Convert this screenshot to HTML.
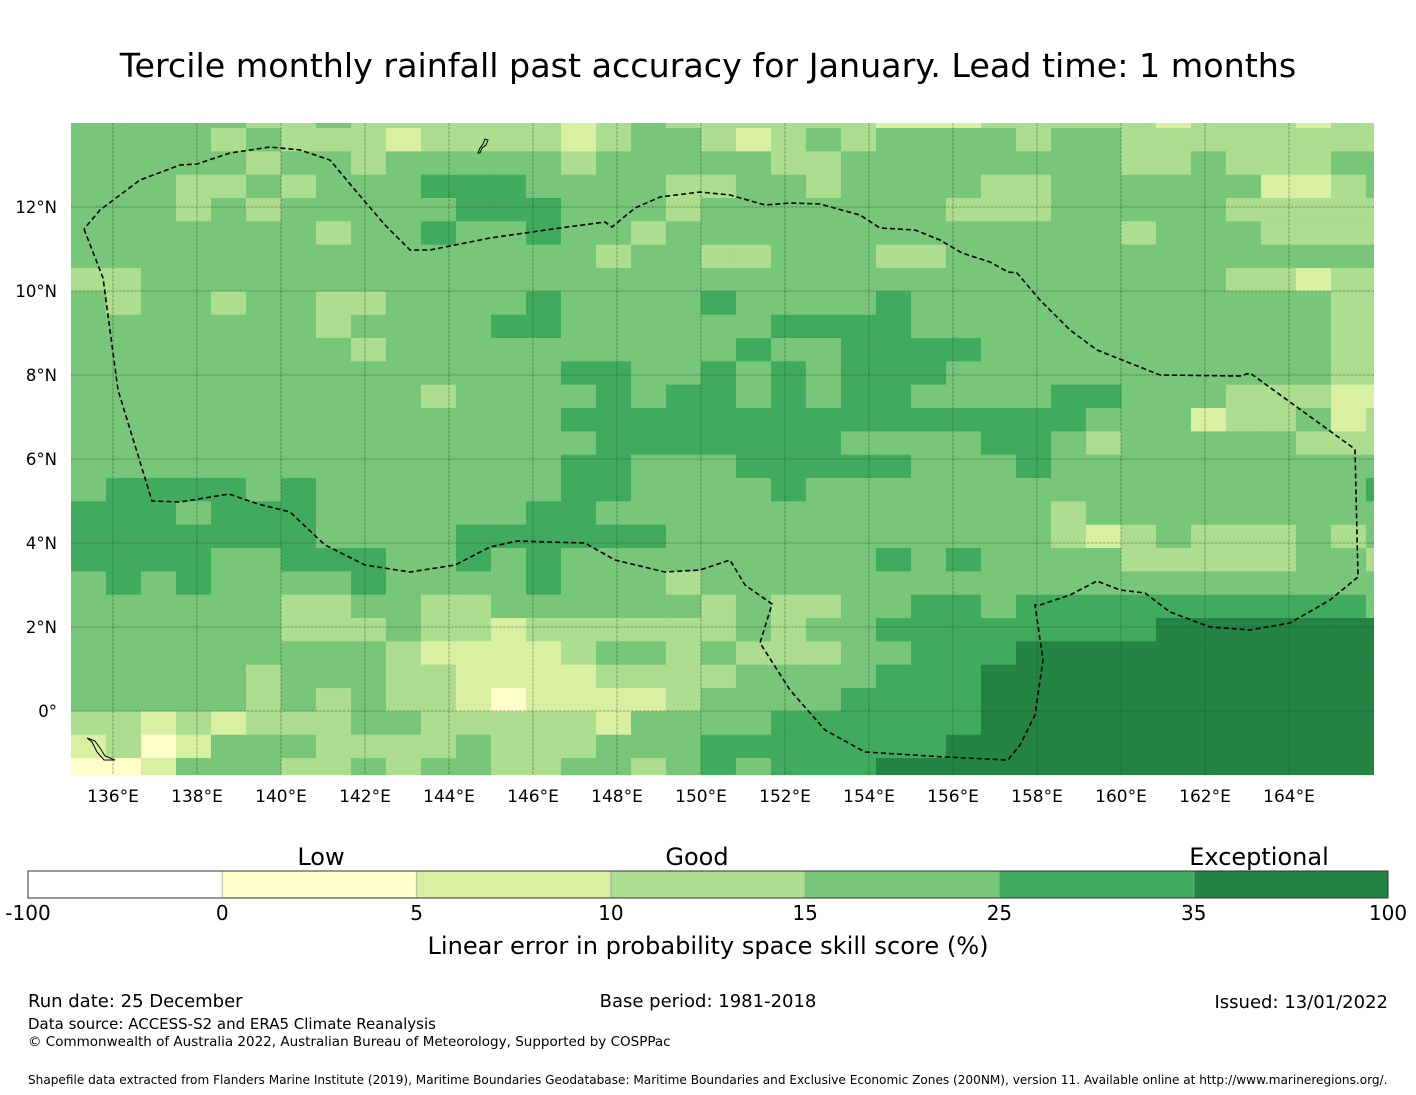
<!DOCTYPE html>
<html><head><meta charset="utf-8"><style>
html,body{margin:0;padding:0;background:#fff;}
svg{display:block;font-family:"DejaVu Sans","Liberation Sans",sans-serif;}
</style></head><body>
<svg id="page" width="1416" height="1095" viewBox="0 0 1416 1095" xmlns="http://www.w3.org/2000/svg">
<text x="708" y="77" font-size="33.3" text-anchor="middle" fill="#000">Tercile monthly rainfall past accuracy for January. Lead time: 1 months</text>
<defs><clipPath id="mapclip"><rect x="71" y="123" width="1303" height="652"/></clipPath></defs>
<g id="map" clip-path="url(#mapclip)">
<g id="cells"></g>
<g id="grid"></g>
<polyline fill="none" stroke="#000" stroke-width="1.6" stroke-dasharray="5,3" points="84,229 103,278 118,390 152,501 180,502 229,494 258,504 290,512 325,545 365,565 410,572 455,565 490,547 517,541 550,542 585,543 615,560 665,572 700,570 730,560 745,585 772,604 760,643 790,690 825,730 865,752 945,757 1008,760 1020,745 1035,715 1043,660 1035,605 1040,605 1070,595 1097,581 1120,590 1145,593 1170,612 1210,627 1250,630 1290,623 1330,600 1358,577 1355,450 1352,447 1250,373 1240,376 1160,375 1097,350 1070,330 1040,300 1017,273 1008,272 990,262 962,253 940,240 915,230 880,228 860,215 820,204 790,203 765,205 730,195 700,192 660,197 635,208 612,227 605,222 560,228 490,238 430,250 410,250 385,225 355,190 330,160 300,150 270,147 230,153 197,164 180,165 140,180 100,210 84,229"/>
<path d="M478,153 l2,-5 l3,-4 l2,-5 l3,1 l-2,5 l-4,3 l-2,5 z" fill="none" stroke="#000" stroke-width="1"/>
<path d="M87,738 l8,3 l5,7 l5,8 l10,4 l-11,0 l-7,-8 l-5,-10 z" fill="none" stroke="#000" stroke-width="1"/>
</g>
<g id="xlabels"></g>
<g id="ylabels"></g>
<g id="cbar"></g>
<text x="321" y="865" font-size="24" text-anchor="middle">Low</text>
<text x="697" y="865" font-size="24" text-anchor="middle">Good</text>
<text x="1259" y="865" font-size="24" text-anchor="middle">Exceptional</text>
<text x="708" y="954" font-size="24.1" text-anchor="middle">Linear error in probability space skill score (%)</text>
<text x="28" y="1007" font-size="18">Run date: 25 December</text>
<text x="708" y="1007" font-size="18" text-anchor="middle">Base period: 1981-2018</text>
<text x="1388" y="1008" font-size="18" text-anchor="end">Issued: 13/01/2022</text>
<text x="28" y="1029" font-size="15">Data source: ACCESS-S2 and ERA5 Climate Reanalysis</text>
<text x="28" y="1046" font-size="13.5">© Commonwealth of Australia 2022, Australian Bureau of Meteorology, Supported by COSPPac</text>
<text x="28" y="1084" font-size="12.1">Shapefile data extracted from Flanders Marine Institute (2019), Maritime Boundaries Geodatabase: Maritime Boundaries and Exclusive Economic Zones (200NM), version 11. Available online at http://www.marineregions.org/.</text>
</svg>
<script>
// skill category per cell (0=-100..0, 1=0-5, 2=5-10, 3=10-15, 4=15-25, 5=25-35, 6=35-100), rows north->south, chunks of 5 columns
const skillRows = [
"44444 33433 33332 34333 33322 23333 32333 233",
"44443 43332 33332 34432 34344 44344 33333 333",
"44444 34434 44443 44444 33444 44444 33433 344",
"44433 43444 55544 44334 43444 43344 44442 234",
"44434 34444 45554 44344 44444 33344 44433 333",
"44444 44344 54454 43444 44444 44444 34443 333",
"44444 44444 44444 34433 44433 44444 44444 444",
"33444 44444 44444 44444 44444 44444 44433 233",
"43443 44334 44454 44454 44454 44444 44444 433",
"44444 44344 44554 44444 55554 44444 44444 433",
"44444 44434 44444 44445 44555 54444 44444 433",
"44444 44444 44445 54454 54555 44444 44444 433",
"44444 44444 34444 54554 54554 44455 44433 322",
"44444 44444 44445 55555 55555 55554 44233 423",
"44444 44444 44444 55555 55444 45543 44444 333",
"44444 44444 44445 54445 55554 44544 44444 444",
"45555 45444 44445 54444 54444 44444 44444 445",
"55545 55444 44455 44444 44444 44434 44444 444",
"55555 55444 45555 55444 44444 44432 34333 434",
"55554 45554 45454 44444 44454 54444 33333 443",
"45454 44454 44454 44344 44444 44444 44444 444",
"44444 43344 33444 44434 33445 54555 55555 554",
"44444 43334 33233 33334 34455 55555 56666 666",
"44444 44443 22223 44343 33445 55666 66666 666",
"44444 34443 32222 33334 44455 56666 66666 666",
"44444 34343 32122 22344 44555 56666 66666 666",
"33232 33344 33333 24444 55555 56666 66666 666",
"23124 44333 34333 44455 55555 66666 66666 666",
"11244 43343 44334 43454 55566 66666 66666 666"
];
// cell edges (degrees)
const lonStart = 135.0, lonStep = 0.8333;
const latEdges = [14.0, 13.881];
const latStep = 0.5556;
const binColors = ["#ffffff","#ffffcc","#d9f0a3","#addd8e","#78c679","#41ab5d","#238443"];
const cbarTicks = ["-100","0","5","10","15","25","35","100"];
const lonTicks = [136,138,140,142,144,146,148,150,152,154,156,158,160,162,164];
const latTicks = [12,10,8,6,4,2,0];

const NS="http://www.w3.org/2000/svg";
const xs = lon => 113 + 42*(lon-136);
const ys = lat => 711 - 42*lat;

const cells=document.getElementById('cells');
for(let r=0;r<skillRows.length;r++){
  let top, bot;
  if(r===0){top=latEdges[0];bot=latEdges[1];}
  else {top=latEdges[1]-latStep*(r-1);bot=top-latStep;}
  const row=skillRows[r].replace(/ /g,'');
  for(let c=0;c<row.length;c++){
    const l=lonStart+lonStep*c;
    const rect=document.createElementNS(NS,'rect');
    rect.setAttribute('x',xs(l));rect.setAttribute('y',ys(top));
    rect.setAttribute('width',xs(l+lonStep)-xs(l)+0.4);
    rect.setAttribute('height',ys(bot)-ys(top)+0.4);
    rect.setAttribute('fill',binColors[+row[c]]);
    
    
    cells.appendChild(rect);
  }
}
const grid=document.getElementById('grid');
const xl=document.getElementById('xlabels');
lonTicks.forEach(v=>{
  const ln=document.createElementNS(NS,'line');
  ln.setAttribute('x1',xs(v));ln.setAttribute('x2',xs(v));ln.setAttribute('y1',123);ln.setAttribute('y2',775);
  ln.setAttribute('stroke','#333');ln.setAttribute('stroke-opacity','0.4');ln.setAttribute('stroke-width','1');ln.setAttribute('stroke-dasharray','3,1');
  
  
  grid.appendChild(ln);
  const t=document.createElementNS(NS,'text');
  t.setAttribute('x',xs(v));t.setAttribute('y',802);t.setAttribute('font-size','17');t.setAttribute('text-anchor','middle');
  t.textContent=v+'°E';
  
  
  xl.appendChild(t);
});
const yl=document.getElementById('ylabels');
latTicks.forEach(v=>{
  const ln=document.createElementNS(NS,'line');
  ln.setAttribute('x1',71);ln.setAttribute('x2',1374);ln.setAttribute('y1',ys(v));ln.setAttribute('y2',ys(v));
  ln.setAttribute('stroke','#333');ln.setAttribute('stroke-opacity','0.4');ln.setAttribute('stroke-width','1');ln.setAttribute('stroke-dasharray','3,1');
  
  
  grid.appendChild(ln);
  const t=document.createElementNS(NS,'text');
  t.setAttribute('x',57);t.setAttribute('y',ys(v)+6);t.setAttribute('font-size','16.5');t.setAttribute('text-anchor','end');
  t.textContent=v===0?'0°':v+'°N';
  
  
  yl.appendChild(t);
});
const cb=document.getElementById('cbar');
const cbX=28, cbW=1360, cbY=871, cbH=27, segW=cbW/binColors.length;
binColors.forEach((col,i)=>{
  const r=document.createElementNS(NS,'rect');
  r.setAttribute('x',cbX+segW*i);r.setAttribute('y',cbY);r.setAttribute('width',segW);r.setAttribute('height',cbH);
  r.setAttribute('fill',col);
  
  
  cb.appendChild(r);
  if(i>0){
    const d=document.createElementNS(NS,'line');
    d.setAttribute('x1',cbX+segW*i);d.setAttribute('x2',cbX+segW*i);d.setAttribute('y1',cbY);d.setAttribute('y2',cbY+cbH);
    d.setAttribute('stroke','#999');d.setAttribute('stroke-width','1.5');d.setAttribute('stroke-opacity','0.5');
    
    
    cb.appendChild(d);
  }
});
const fr=document.createElementNS(NS,'rect');
fr.setAttribute('x',cbX);fr.setAttribute('y',cbY);fr.setAttribute('width',cbW);fr.setAttribute('height',cbH);
fr.setAttribute('fill','none');fr.setAttribute('stroke','#333');fr.setAttribute('stroke-width','1');


cb.appendChild(fr);
cbarTicks.forEach((lab,i)=>{
  const t=document.createElementNS(NS,'text');
  t.setAttribute('x',cbX+segW*i);t.setAttribute('y',920);t.setAttribute('font-size','20');t.setAttribute('text-anchor','middle');
  t.textContent=lab;
  
  
  cb.appendChild(t);
});
</script>
</body></html>
